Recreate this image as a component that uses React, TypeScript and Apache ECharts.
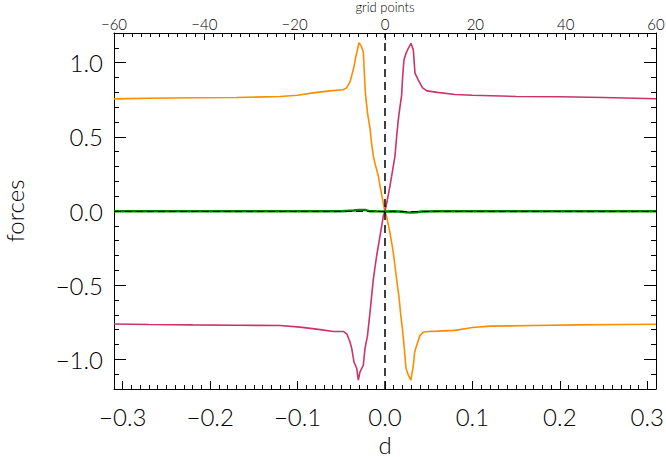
import React, { useEffect, useRef } from "react";
import * as echarts from "echarts";

// ---- data ----
const orangeD = [
  -0.31, -0.27, -0.22, -0.17, -0.12, -0.1, -0.08, -0.063, -0.048, -0.044, -0.04, -0.036, -0.033,
  -0.0297, -0.027, -0.0248, -0.0225, -0.02, -0.017, -0.0152, -0.0133, -0.011, -0.0076, -0.0057,
  -0.0038, -0.0019, 0, 0.0019, 0.0057, 0.0095, 0.0133, 0.016, 0.018, 0.02, 0.022, 0.024, 0.0267,
  0.0297, 0.0324, 0.034, 0.0362, 0.04, 0.0438, 0.05, 0.06, 0.08, 0.1, 0.12, 0.17, 0.22, 0.27, 0.31,
];
const orangeF = [
  0.756, 0.76, 0.763, 0.765, 0.772, 0.78, 0.798, 0.81, 0.817, 0.83, 0.87, 0.96, 1.05,
  1.134, 1.11, 1.07, 0.8, 0.66, 0.55, 0.45, 0.37, 0.31, 0.235, 0.17,
  0.11, 0.05, -0.005, -0.04, -0.145, -0.28, -0.46, -0.58, -0.7, -0.8, -0.92, -1.06, -1.107,
  -1.14, -1.04, -0.95, -0.906, -0.84, -0.816, -0.812, -0.81, -0.805, -0.785, -0.776, -0.772, -0.768, -0.765, -0.763,
];

const magentaD = [
  -0.31, -0.27, -0.22, -0.17, -0.12, -0.097, -0.074, -0.059, -0.0476, -0.0438, -0.04, -0.038,
  -0.0354, -0.0324, -0.0305, -0.0286, -0.0248, -0.0229, -0.02, -0.0171, -0.0133, -0.0095, -0.0076,
  -0.0057, -0.0019, 0, 0.0019, 0.0057, 0.0076, 0.0114, 0.0133, 0.0152, 0.0171, 0.019, 0.0202,
  0.0217, 0.024, 0.0267, 0.0297, 0.0324, 0.0343, 0.038, 0.043, 0.048, 0.06, 0.08, 0.1, 0.15, 0.2,
  0.25, 0.31,
];
const magentaF = [
  -0.762, -0.765, -0.768, -0.77, -0.772, -0.783, -0.8, -0.812, -0.812, -0.828, -0.883, -0.928,
  -1.02, -1.06, -1.14, -1.085, -1.04, -0.928, -0.84, -0.68, -0.458, -0.3, -0.235,
  -0.168, -0.034, 0.0, 0.05, 0.17, 0.235, 0.37, 0.5, 0.615, 0.7, 0.78, 0.906,
  1.018, 1.063, 1.097, 1.13, 1.085, 0.93, 0.884, 0.83, 0.81, 0.8, 0.785, 0.78, 0.772, 0.77,
  0.765, 0.757,
];

const greenD = [
  -0.31, -0.2, -0.1, -0.05, -0.036, -0.03, -0.022, -0.018, -0.01, 0, 0.01, 0.02, 0.024, 0.03,
  0.036, 0.042, 0.06, 0.1, 0.2, 0.31,
];
const greenF = [
  -0.002, -0.002, -0.002, -0.001, 0.004, 0.007, 0.006, -0.001, -0.002, -0.003, -0.002, -0.005,
  -0.009, -0.01, -0.008, -0.003, -0.002, -0.002, -0.002, -0.002,
];

const xMajorTicks = [-0.3, -0.2, -0.1, 0.0, 0.1, 0.2, 0.3];
const yMajorTicks = [-1.0, -0.5, 0.0, 0.5, 1.0];

const xMinorTicks: number[] = [];
for (let i = -31; i <= 31; i++) xMinorTicks.push(i / 100);
const yMinorTicks: number[] = [];
for (let i = -12; i <= 12; i++) yMinorTicks.push(i / 10);

const pairs = (xs: number[], ys: number[]) => xs.map((x, i) => [x, ys[i]]);
const fmt1 = (v: number) => (v < -1e-9 ? "\u2212" : "") + Math.abs(v).toFixed(1);
const fmt0 = (v: number) => (v < -1e-9 ? "\u2212" : "") + Math.abs(Math.round(v)).toString();

const FONT = "Lato";
const BLACK = "#000";

export default function App() {
  const ref = useRef<HTMLDivElement>(null);
  useEffect(() => {
    if (!ref.current) return;
    const chart = echarts.init(ref.current, undefined, { renderer: "svg" });
    const line = { show: true, onZero: false, lineStyle: { color: BLACK, width: 1 } };
    const noLine = { show: false, onZero: false };
    chart.setOption({
      animation: false,
      backgroundColor: "#fff",
      textStyle: { fontFamily: FONT, fontWeight: 300, color: BLACK },
      grid: { left: 114, right: 10, top: 33, bottom: 68, containLabel: false, outerBoundsMode: "none" },
      xAxis: [
        {
          type: "value", position: "bottom", min: -0.31, max: 0.31,
          axisLine: line,
          axisTick: { show: true, inside: true, length: 8, customValues: xMajorTicks, lineStyle: { color: BLACK } },
          axisLabel: {
            show: true, customValues: xMajorTicks, formatter: fmt1, fontSize: 24, lineHeight: 22, margin: 16,
            color: BLACK, fontFamily: FONT, fontWeight: 300,
          },
          splitLine: { show: false },
          name: "d", nameLocation: "middle", nameGap: 44, nameMoveOverlap: false,
          nameTextStyle: { fontSize: 24, lineHeight: 22, color: BLACK, fontFamily: FONT, fontWeight: 300 },
        },
        {
          type: "value", position: "bottom", min: -0.31, max: 0.31,
          axisLine: noLine,
          axisTick: { show: true, inside: true, length: 4, customValues: xMinorTicks, lineStyle: { color: BLACK } },
          axisLabel: { show: false },
          splitLine: { show: false },
        },
        {
          type: "value", position: "top", min: -60, max: 60, interval: 20,
          axisLine: line,
          axisTick: { show: true, inside: true, length: 7, lineStyle: { color: BLACK } },
          minorTick: { show: true, splitNumber: 10, length: 4, lineStyle: { color: BLACK } },
          axisLabel: {
            show: true, formatter: fmt0, fontSize: 15, lineHeight: 15, margin: 2,
            color: BLACK, fontFamily: FONT, fontWeight: 300,
          },
          splitLine: { show: false },
          minorSplitLine: { show: false },
          name: "grid points", nameLocation: "middle", nameGap: 20, nameMoveOverlap: false,
          nameTextStyle: { fontSize: 13, lineHeight: 13, color: BLACK, fontFamily: FONT, fontWeight: 300 },
        },
      ],
      yAxis: [
        {
          type: "value", position: "left", min: -1.2, max: 1.2,
          axisLine: line,
          axisTick: { show: true, inside: true, length: 12, customValues: yMajorTicks, lineStyle: { color: BLACK } },
          axisLabel: {
            show: true, customValues: yMajorTicks, formatter: fmt1, fontSize: 24, margin: 11,
            color: BLACK, fontFamily: FONT, fontWeight: 300,
          },
          splitLine: { show: false },
          name: "forces", nameLocation: "middle", nameGap: 89, nameRotate: 90, nameMoveOverlap: false,
          nameTextStyle: { fontSize: 24, lineHeight: 22, color: BLACK, fontFamily: FONT, fontWeight: 300 },
        },
        {
          type: "value", position: "left", min: -1.2, max: 1.2,
          axisLine: noLine,
          axisTick: { show: true, inside: true, length: 5, customValues: yMinorTicks, lineStyle: { color: BLACK } },
          axisLabel: { show: false },
          splitLine: { show: false },
        },
        {
          type: "value", position: "right", min: -1.2, max: 1.2,
          axisLine: line,
          axisTick: { show: true, inside: true, length: 12, customValues: yMajorTicks, lineStyle: { color: BLACK } },
          axisLabel: { show: false },
          splitLine: { show: false },
        },
        {
          type: "value", position: "right", min: -1.2, max: 1.2,
          axisLine: noLine,
          axisTick: { show: true, inside: true, length: 5, customValues: yMinorTicks, lineStyle: { color: BLACK } },
          axisLabel: { show: false },
          splitLine: { show: false },
        },
      ],
      series: [
        {
          type: "line", xAxisIndex: 0, yAxisIndex: 0, z: 2,
          data: pairs(orangeD, orangeF), symbol: "none", showSymbol: false,
          lineStyle: { color: "#FF8C00", width: 1.6 }, itemStyle: { color: "#FF8C00" },
        },
        {
          type: "line", xAxisIndex: 0, yAxisIndex: 0, z: 2,
          data: pairs(magentaD, magentaF), symbol: "none", showSymbol: false,
          lineStyle: { color: "#CC3366", width: 1.6 }, itemStyle: { color: "#CC3366" },
        },
        {
          type: "line", xAxisIndex: 0, yAxisIndex: 0, z: 2,
          data: pairs(greenD, greenF), symbol: "none", showSymbol: false,
          lineStyle: { color: "#008000", width: 2.5 }, itemStyle: { color: "#008000" },
          markLine: {
            silent: true, symbol: ["none", "none"], label: { show: false },
            lineStyle: { color: BLACK, type: [7, 4], width: 1 },
            data: [{ yAxis: 0 }],
          },
        },
        {
          type: "line", xAxisIndex: 0, yAxisIndex: 0, z: 3, data: [],
          markLine: {
            silent: true, symbol: ["none", "none"], label: { show: false },
            lineStyle: { color: BLACK, type: [8, 5], width: 1.5 },
            data: [{ xAxis: 0 }],
          },
        },
      ],
    });
    return () => chart.dispose();
  }, []);
  return (
    <div
      ref={ref}
      style={{ position: "fixed", left: 0, top: 0, width: 666, height: 457, background: "#fff" }}
    />
  );
}
